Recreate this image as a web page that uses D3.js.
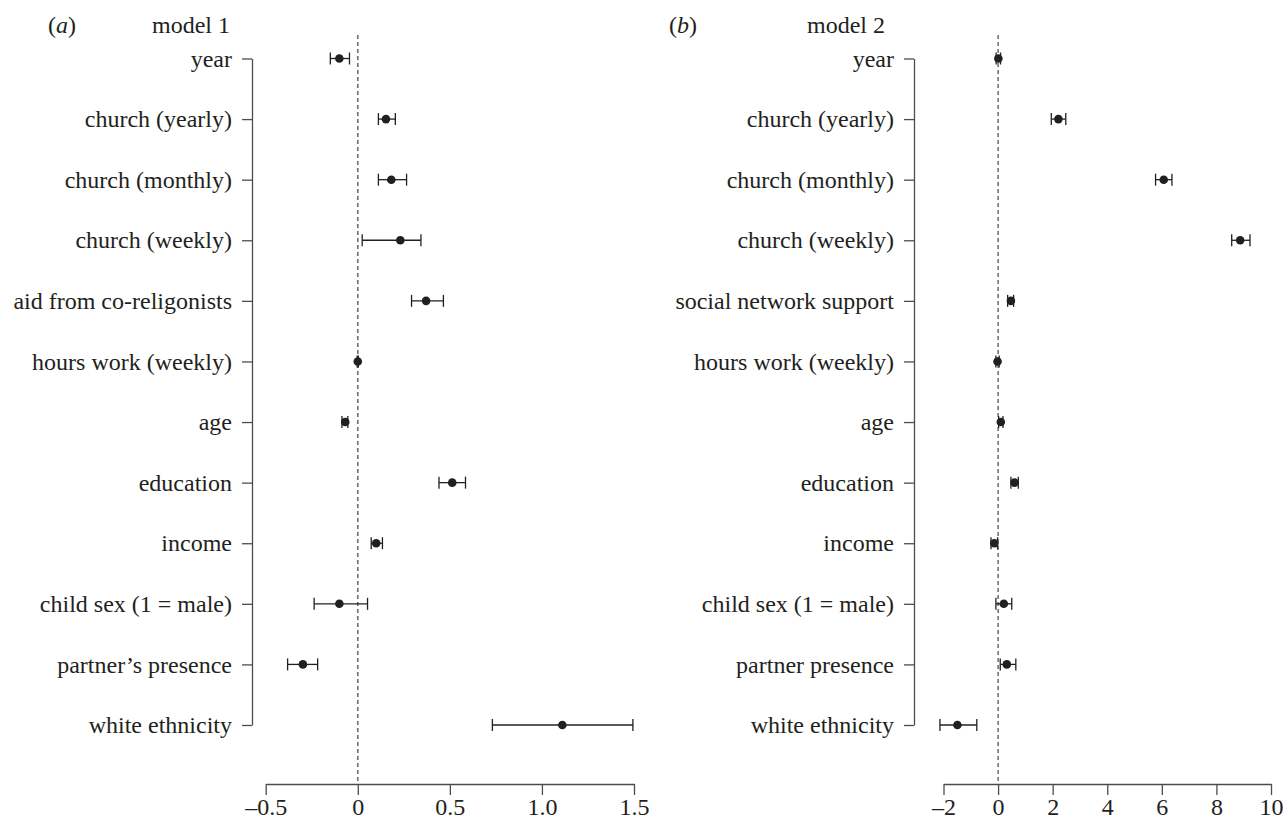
<!DOCTYPE html>
<html>
<head>
<meta charset="utf-8">
<script src="https://cdn.jsdelivr.net/npm/d3@7"></script>
<style>
  html, body { margin: 0; padding: 0; background: #fff; }
  svg { display: block; }
  text { font-family: "Liberation Serif", "DejaVu Serif", serif; fill: #231f20; }
</style>
</head>
<body>
<svg id="chart" width="1283" height="825"></svg>
<script>
// model 1 (panel a)
const labels1 = ["year", "church (yearly)", "church (monthly)", "church (weekly)", "aid from co-religonists",
  "hours work (weekly)", "age", "education", "income", "child sex (1 = male)", "partner\u2019s presence", "white ethnicity"];
const est1 = [-0.10, 0.153, 0.182, 0.231, 0.371, 0.0, -0.068, 0.513, 0.10, -0.10, -0.298, 1.111];
const lo1 = [-0.149, 0.112, 0.112, 0.024, 0.292, -0.003, -0.086, 0.441, 0.073, -0.237, -0.381, 0.731];
const hi1 = [-0.045, 0.204, 0.265, 0.343, 0.465, 0.003, -0.054, 0.585, 0.134, 0.053, -0.218, 1.494];
const ticks1 = [-0.5, 0, 0.5, 1.0, 1.5];
const tickLabels1 = ["\u20130.5", "0", "0.5", "1.0", "1.5"];

// model 2 (panel b)
const labels2 = ["year", "church (yearly)", "church (monthly)", "church (weekly)", "social network support",
  "hours work (weekly)", "age", "education", "income", "child sex (1 = male)", "partner presence", "white ethnicity"];
const est2 = [0.01, 2.21, 6.07, 8.87, 0.47, -0.02, 0.10, 0.60, -0.14, 0.21, 0.32, -1.49];
const lo2 = [-0.07, 1.95, 5.77, 8.56, 0.35, -0.08, 0.02, 0.47, -0.26, -0.08, 0.08, -2.13];
const hi2 = [0.09, 2.48, 6.37, 9.23, 0.57, 0.04, 0.18, 0.74, -0.02, 0.50, 0.65, -0.78];
const ticks2 = [-2, 0, 2, 4, 6, 8, 10];
const tickLabels2 = ["\u20132", "0", "2", "4", "6", "8", "10"];

const svg = d3.select("#chart");
const fontSize = 24;
const axisY = 784;

drawPanel({
  tag: "a", title: "model 1", labels: labels1, est: est1, lo: lo1, hi: hi1,
  ticks: ticks1, tickLabels: tickLabels1, domain: [-0.5, 1.5], range: [265.7, 634],
  yAxisX: 252, tagX: 48, titleX: 152, dash: { color: "#6d6e70", width: 1.6 }
});

drawPanel({
  tag: "b", title: "model 2", labels: labels2, est: est2, lo: lo2, hi: hi2,
  ticks: ticks2, tickLabels: tickLabels2, domain: [-2, 10], range: [943.5, 1271],
  yAxisX: 914, tagX: 669, titleX: 807, dash: { color: "#231f20", width: 1 }
});

function drawPanel(p) {
  const g = svg.append("g");
  const x = d3.scaleLinear().domain(p.domain).range(p.range);
  const y = d3.scalePoint().domain(p.labels).range([58.5, 725]);

  // panel tag and title
  const tagText = g.append("text").attr("x", p.tagX).attr("y", 33).attr("font-size", fontSize);
  tagText.append("tspan").text("(");
  tagText.append("tspan").attr("font-style", "italic").text(p.tag);
  tagText.append("tspan").text(")");
  g.append("text").attr("x", p.titleX).attr("y", 33).attr("font-size", fontSize).text(p.title);

  // zero reference line
  g.append("line")
    .attr("x1", x(0)).attr("x2", x(0))
    .attr("y1", 35).attr("y2", axisY)
    .attr("stroke", p.dash.color)
    .attr("stroke-width", p.dash.width)
    .attr("stroke-dasharray", "4,3");

  // y axis
  const yAxis = g.append("g")
    .attr("transform", `translate(${p.yAxisX},0)`)
    .call(d3.axisLeft(y).tickSize(10).tickSizeOuter(0).tickPadding(10));
  yAxis.select(".domain").attr("stroke", "#4d4d4f").attr("stroke-width", 1.3);
  yAxis.selectAll(".tick line").attr("stroke", "#4d4d4f").attr("stroke-width", 1.3);
  yAxis.selectAll(".tick text")
    .attr("font-size", fontSize)
    .attr("font-family", "Liberation Serif, DejaVu Serif, serif")
    .attr("fill", "#231f20")
    .attr("dy", "0.32em");

  // x axis
  const xAxis = g.append("g")
    .attr("transform", `translate(0,${axisY})`)
    .call(d3.axisBottom(x).tickValues(p.ticks).tickSize(11).tickSizeOuter(0).tickPadding(6)
      .tickFormat((d, i) => p.tickLabels[i]));
  xAxis.select(".domain").attr("stroke", "#4d4d4f").attr("stroke-width", 1.3);
  xAxis.selectAll(".tick line").attr("stroke", "#4d4d4f").attr("stroke-width", 1.3);
  xAxis.selectAll(".tick text")
    .attr("font-size", fontSize)
    .attr("font-family", "Liberation Serif, DejaVu Serif, serif")
    .attr("fill", "#231f20")
    .attr("dy", "0.6em");

  // error bars and points
  const rows = p.labels.map((label, i) => ({ label, est: p.est[i], lo: p.lo[i], hi: p.hi[i] }));
  const bars = g.append("g").selectAll("g").data(rows).join("g");
  bars.append("line")
    .attr("x1", (d) => x(d.lo)).attr("x2", (d) => x(d.hi))
    .attr("y1", (d) => y(d.label)).attr("y2", (d) => y(d.label))
    .attr("stroke", "#231f20").attr("stroke-width", 1.3);
  for (const side of ["lo", "hi"]) {
    bars.append("line")
      .attr("x1", (d) => x(d[side])).attr("x2", (d) => x(d[side]))
      .attr("y1", (d) => y(d.label) - 6).attr("y2", (d) => y(d.label) + 6)
      .attr("stroke", "#231f20").attr("stroke-width", 1.3);
  }
  bars.append("circle")
    .attr("cx", (d) => x(d.est)).attr("cy", (d) => y(d.label))
    .attr("r", 4.3)
    .attr("fill", "#231f20");
}
</script>
</body>
</html>
